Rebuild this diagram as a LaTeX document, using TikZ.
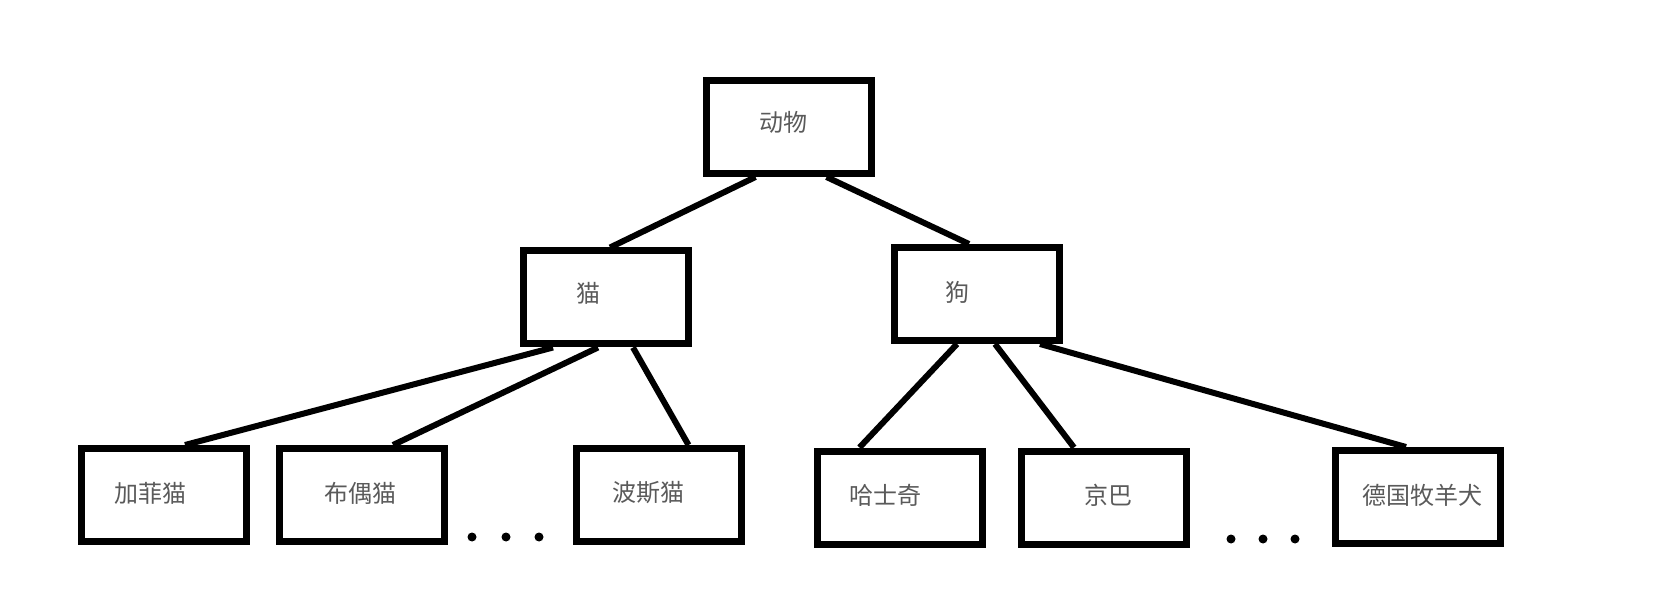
\documentclass[tikz,border=0pt]{standalone}
\usepackage{fontspec}
\newfontfamily\cjk{Noto Sans CJK SC}
\definecolor{txtgray}{RGB}{90,90,90}
\begin{document}
\begin{tikzpicture}[x=1pt,y=-1pt,
  box/.style={draw=black,line width=7pt,line join=miter,minimum width=165pt,minimum height=93pt,inner sep=0pt,fill=white},
  lbl/.style={font=\cjk\fontsize{24}{24}\selectfont,text=txtgray,inner sep=0pt},
  conn/.style={line width=6pt},
  dot/.style={circle,fill=black,minimum size=9pt,inner sep=0pt}]
\useasboundingbox[fill=white] (0,0) rectangle (1673,601);
% boxes
\node[box] (a)  at (788.5,127) {};
\node[box] (cat) at (606,297.5) {};
\node[box] (dog) at (977,294) {};
\node[box] (jf) at (164,495) {};
\node[box] (bo) at (362,495) {};
\node[box] (bs) at (658.5,495) {};
\node[box] (hs) at (899.5,497.5) {};
\node[box] (jb) at (1104,497.5) {};
\node[box] (dg) at (1418,497) {};
% labels
\node[lbl] (ta) at (783,122) {动物};
\node[lbl] (tcat) at (588,293) {猫};
\node[lbl] (tdog) at (957,292) {狗};
\node[lbl] (tjf) at (150,493) {加菲猫};
\node[lbl] (tbo) at (360,493) {布偶猫};
\node[lbl] (tbs) at (648,493) {波斯猫};
\node[lbl] (ths) at (885,495) {哈士奇};
\node[lbl] (tjb) at (1108,495) {京巴};
\node[lbl] (tdg) at (1422,495) {德国牧羊犬};
% connectors
\draw[conn] ([xshift=-33pt]a.south) -- ([xshift=4pt]cat.north);
\draw[conn] ([xshift=38pt]a.south) -- ([xshift=-8pt]dog.north);
\draw[conn] ([xshift=-53pt]cat.south) -- ([xshift=21pt]jf.north);
\draw[conn] ([xshift=-8pt]cat.south) -- ([xshift=31pt]bo.north);
\draw[conn] ([xshift=27pt]cat.south) -- ([xshift=30pt]bs.north);
\draw[conn] ([xshift=-20pt]dog.south) -- ([xshift=-40pt]hs.north);
\draw[conn] ([xshift=18pt]dog.south) -- ([xshift=-30pt]jb.north);
\draw[conn] ([xshift=63pt]dog.south) -- ([xshift=-12pt]dg.north);
% dots
\node[dot] (d1) at (472,537) {};
\node[dot] (d2) at (506,537) {};
\node[dot] (d3) at (539,537) {};
\node[dot] (d4) at (1231,539) {};
\node[dot] (d5) at (1263,539) {};
\node[dot] (d6) at (1295,539) {};
\end{tikzpicture}
\end{document}
